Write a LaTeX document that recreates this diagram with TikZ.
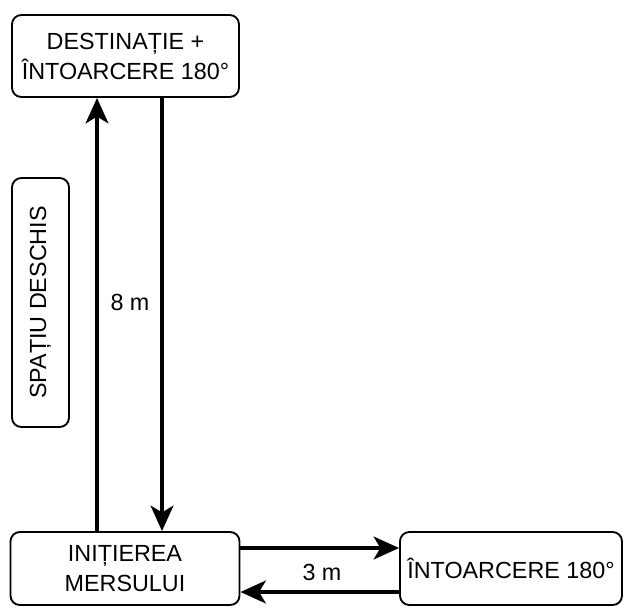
\documentclass[tikz,border=0pt]{standalone}
\usepackage{fontspec}
\setmainfont{Liberation Sans}
\usetikzlibrary{arrows.meta}

\begin{document}
\begin{tikzpicture}[x=0.75pt,y=-0.75pt]
			\useasboundingbox (0,0) rectangle (624,607);
			\begin{scope}[every node/.style={draw,rounded corners=7pt,line width=1.4pt,align=center,inner sep=0pt,font=\fontsize{17.5}{22.5}\selectfont}]
				\node[minimum width=227*0.75pt,minimum height=82*0.75pt] (dest) at (125.5,56) {DESTINAȚIE +\\ÎNTOARCERE 180°};
				\node[rotate=90,minimum width=249*0.75pt,minimum height=57*0.75pt] (open) at (40.5,302.5) {SPAȚIU DESCHIS};
				\node[minimum width=229*0.75pt,minimum height=73*0.75pt] (init) at (125,568.5) {INIȚIEREA\\MERSULUI};
				\node[minimum width=222*0.75pt,minimum height=73*0.75pt] (turn) at (511,568.5) {ÎNTOARCERE 180°};
			\end{scope}
			
			\coordinate (upx) at (97,0);
			\coordinate (downx) at (162,0);
			\coordinate (outy) at (0,548);
			\coordinate (backy) at (0,592);
			
			\begin{scope}[line width=3pt,-{Stealth[length=19pt,width=17pt,inset=5pt]}]
				\draw (init.north -| upx) -- (dest.south -| upx);
				\draw (dest.south -| downx) -- (init.north -| downx);
				\draw (init.east |- outy) -- (turn.west |- outy);
				\draw (turn.west |- backy) -- (init.east |- backy);
			\end{scope}
			
			\node[font=\fontsize{17.5}{21}\selectfont] (eight) at (130,302) {8 m};
			\node[font=\fontsize{17.5}{21}\selectfont] (three) at (322,572) {3 m};
		\end{tikzpicture}
\end{document}
